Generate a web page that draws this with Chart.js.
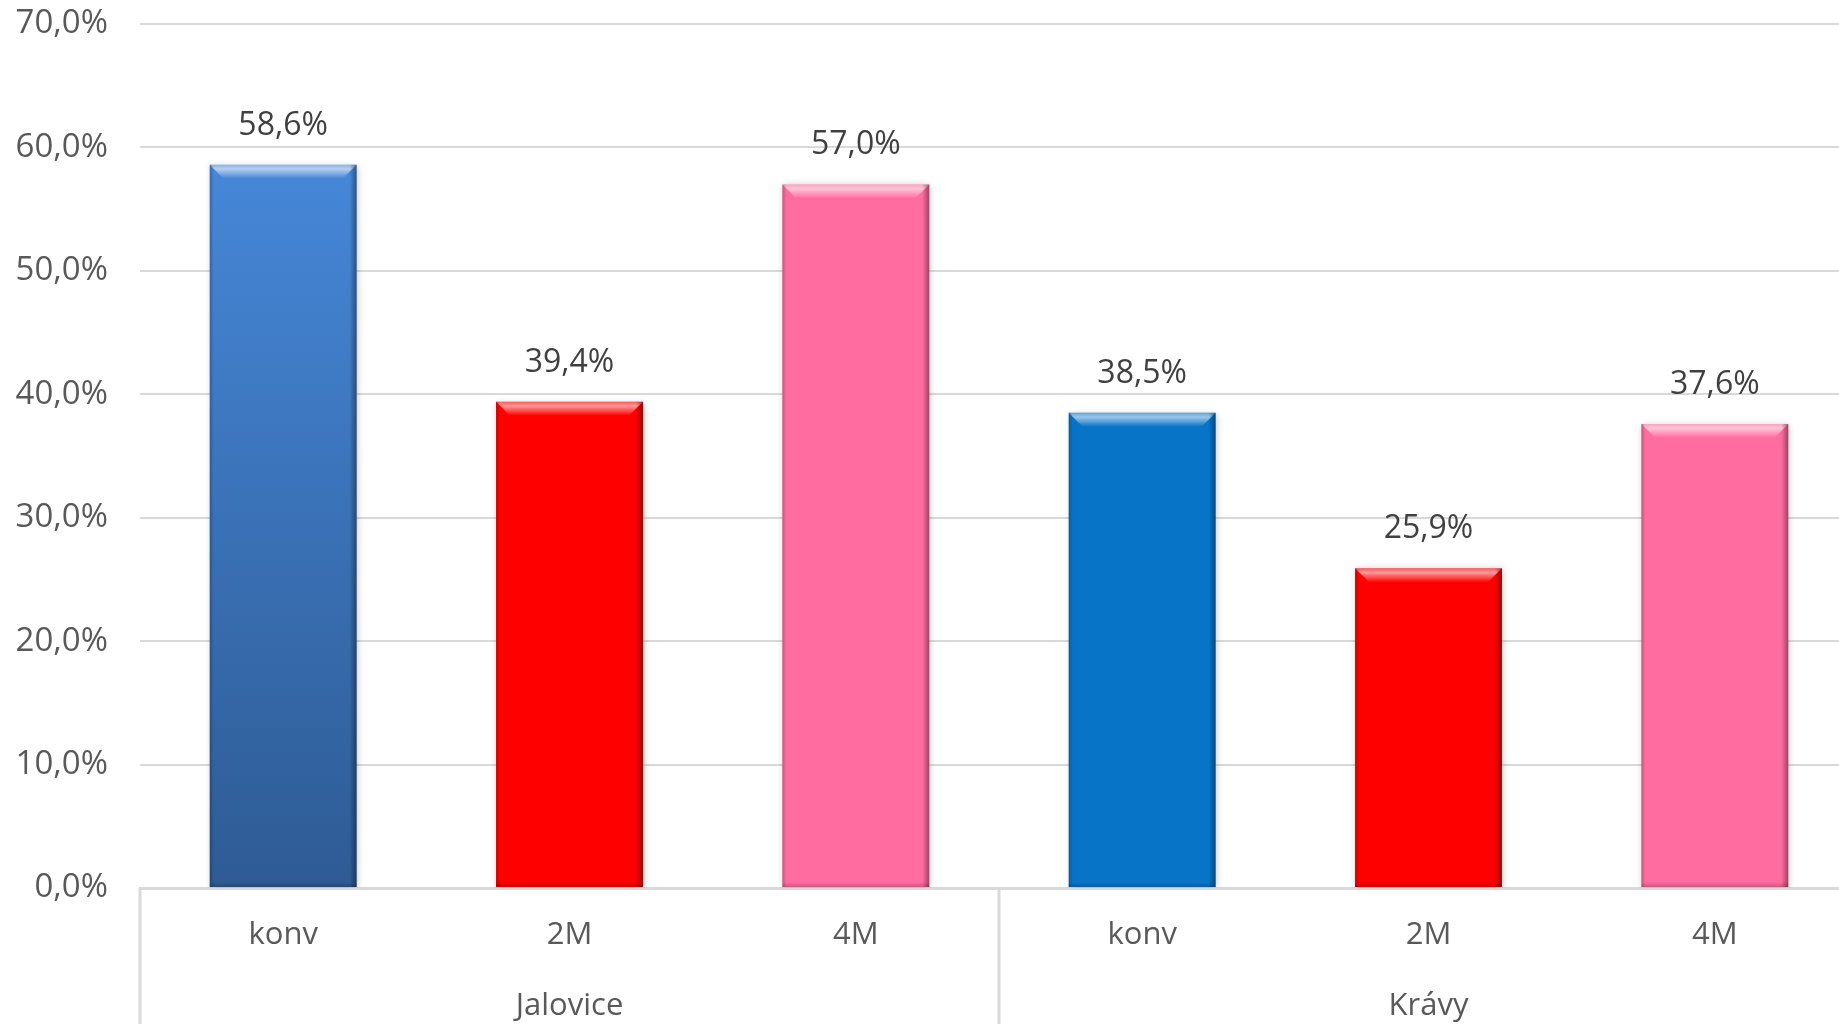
<!DOCTYPE html>
<html><head><meta charset="utf-8">
<script src="https://cdn.jsdelivr.net/npm/chart.js@4/dist/chart.umd.min.js"></script>
<style>html,body{margin:0;padding:0;background:#fff;overflow:hidden}
#wrap{position:relative;width:1858px;height:1024px}</style></head>
<body><div id="wrap"><canvas id="c"></canvas></div>
<script>
const categories = ['konv','2M','4M','konv','2M','4M'];
const groups = ['Jalovice','Krávy'];
const groupSizes = [3,3];
const values = [58.6,39.4,57.0,38.5,25.9,37.6];
const yMin = 0, yMax = 70, yStep = 10;

const barColors = ['#3f7ccc','#fe0000','#ff6c9f','#0874c8','#fe0000','#ff6c9f'];
const FONT = "'Open Sans', 'Noto Sans', sans-serif";
const TEXT = '#595959';
const fmt = v => v.toFixed(1).replace('.', ',') + '%';

function bgColor(ctx){
  const i = ctx.dataIndex;
  if (i === 0 && ctx.chart.scales && ctx.chart.scales.y) {
    const y = ctx.chart.scales.y;
    const t = y.getPixelForValue(values[0]), b = y.getPixelForValue(0);
    if (isFinite(t) && isFinite(b)) {
      const g = ctx.chart.ctx.createLinearGradient(0, t, 0, b);
      g.addColorStop(0, '#4687d8');
      g.addColorStop(1, '#2e5b94');
      return g;
    }
  }
  return barColors[i];
}

const bevel = {
  id: 'bevel',
  beforeDatasetDraw(chart){ const c = chart.ctx; c.save(); c.shadowColor='rgba(0,0,0,0.22)'; c.shadowBlur=7; c.shadowOffsetX=1; c.shadowOffsetY=1; },
  afterDatasetDraw(chart){
    const c = chart.ctx; c.restore();
    const meta = chart.getDatasetMeta(0);
    meta.data.forEach(bar => {
      const {x, y, base, width} = bar.getProps(['x','y','base','width'], true);
      const l = x - width/2, r = x + width/2, t = y, b = base, h = b - t, bv = 14;
      c.save();
      let g = c.createLinearGradient(0, t, 0, t + bv);
      g.addColorStop(0, 'rgba(255,255,255,0.35)');
      g.addColorStop(0.3, 'rgba(255,255,255,0.6)');
      g.addColorStop(1, 'rgba(255,255,255,0.0)');
      c.fillStyle = g;
      c.beginPath(); c.moveTo(l, t); c.lineTo(r, t); c.lineTo(r - bv, t + bv); c.lineTo(l + bv, t + bv); c.closePath(); c.fill();
      g = c.createLinearGradient(r - 7, 0, r, 0);
      g.addColorStop(0, 'rgba(0,0,0,0)'); g.addColorStop(1, 'rgba(0,0,0,0.38)');
      c.fillStyle = g; c.fillRect(r - 7, t, 7, h);
      g = c.createLinearGradient(l, 0, l + 4, 0);
      g.addColorStop(0, 'rgba(0,0,0,0.22)'); g.addColorStop(1, 'rgba(0,0,0,0)');
      c.fillStyle = g; c.fillRect(l, t, 4, h);
      g = c.createLinearGradient(0, b - 5, 0, b);
      g.addColorStop(0, 'rgba(0,0,0,0)'); g.addColorStop(1, 'rgba(0,0,0,0.2)');
      c.fillStyle = g; c.fillRect(l, b - 5, width, 5);
      c.restore();
    });
  }
};

const dataLabels = {
  id: 'dataLabels',
  afterDatasetsDraw(chart){
    const c = chart.ctx;
    const meta = chart.getDatasetMeta(0);
    c.save();
    c.font = '32px ' + FONT; c.fillStyle = '#404040';
    c.textAlign = 'center'; c.textBaseline = 'alphabetic';
    meta.data.forEach((bar, i) => {
      c.fillText(fmt(values[i]), bar.x, bar.y - 30);
    });
    c.restore();
  }
};

const groupAxis = {
  id: 'groupAxis',
  afterDraw(chart){
    const c = chart.ctx, xs = chart.scales.x;
    const top = xs.top, bottom = chart.height;
    c.save();
    c.strokeStyle = '#d9d9d9'; c.lineWidth = 3;
    const edges = [xs.left];
    let start = 0;
    groupSizes.forEach((n, gi) => {
      const end = start + n;
      const edge = end < categories.length ? (xs.getPixelForValue(end - 1) + xs.getPixelForValue(end)) / 2 : xs.right;
      edges.push(edge);
      const center = (xs.getPixelForValue(start) + xs.getPixelForValue(end - 1)) / 2;
      c.font = '31px ' + FONT; c.fillStyle = TEXT; c.textAlign = 'center'; c.textBaseline = 'middle';
      c.fillText(groups[gi], center, 1006);
      start = end;
    });
    edges.forEach(e => { c.beginPath(); c.moveTo(e, top); c.lineTo(e, bottom); c.stroke(); });
    c.restore();
  }
};

new Chart(document.getElementById('c'), {
  type: 'bar',
  data: { labels: categories, datasets: [{ data: values, backgroundColor: bgColor, borderWidth: 0,
    categoryPercentage: 1, barPercentage: 0.513 }] },
  options: {
    responsive: true, maintainAspectRatio: false, animation: false,
    layout: { padding: { top: 0, left: 0, right: 0, bottom: 0 } },
    plugins: { legend: { display: false }, tooltip: { enabled: false } },
    scales: {
      x: {
        grid: { display: false, drawTicks: false },
        border: { display: true, color: '#d9d9d9', width: 3 },
        ticks: { color: TEXT, font: { family: FONT, size: 31 }, padding: 29, maxRotation: 0, autoSkip: false },
        afterFit(s){ s.height = 136; }
      },
      y: {
        min: yMin, max: yMax,
        grid: { color: '#d9d9d9', lineWidth: 2, drawTicks: false },
        border: { display: false },
        ticks: { stepSize: yStep, color: TEXT, font: { family: FONT, size: 33 }, padding: 32, callback: v => fmt(v) },
        afterFit(s){ s.width = 140; s.paddingTop = 24; s.paddingBottom = 0; }
      }
    }
  },
  plugins: [bevel, dataLabels, groupAxis]
});
</script>
</body></html>
